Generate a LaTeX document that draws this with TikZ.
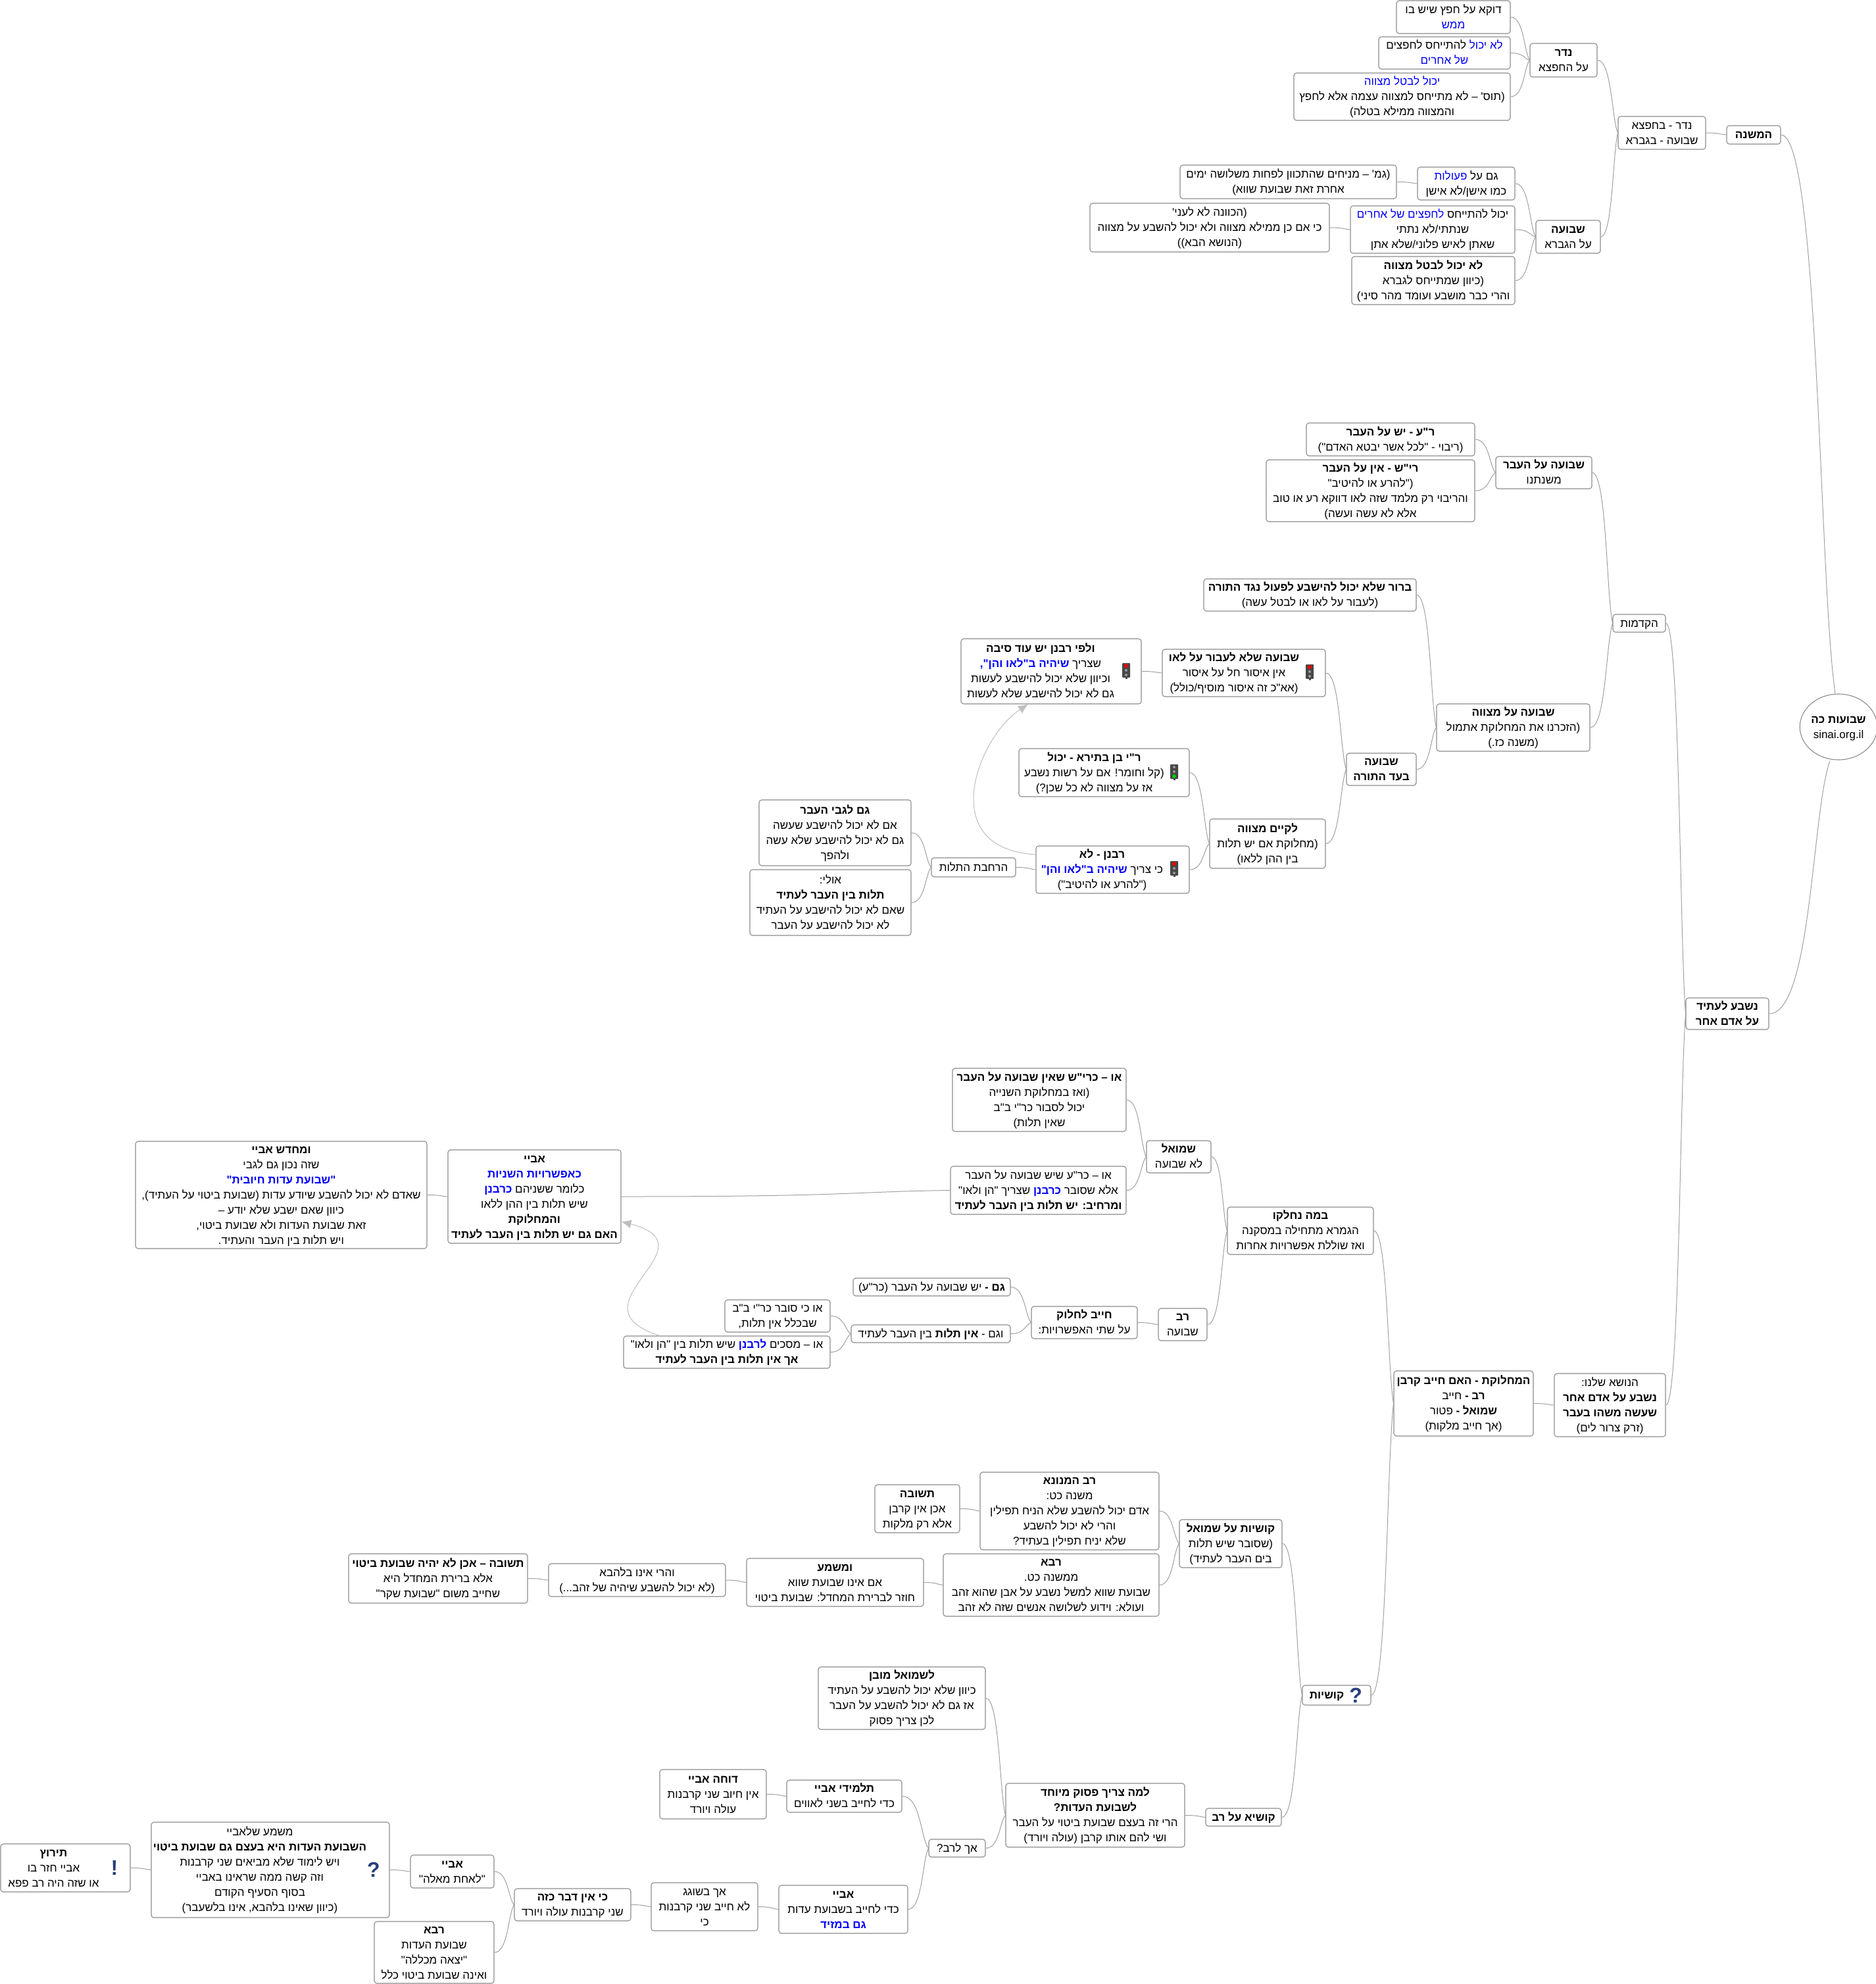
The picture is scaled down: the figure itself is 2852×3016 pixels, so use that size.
\documentclass[tikz,border=0pt]{standalone}
\usepackage{fontspec}
\usetikzlibrary{calc,shapes.geometric,arrows.meta}
\TeXXeTstate=1
\newfontfamily\hefont[Script=Hebrew]{Liberation Sans}
\newfontfamily\hefontblue[Script=Hebrew,Color=0000FF]{Liberation Sans}
\definecolor{edgeg}{HTML}{8C8C8C}
\definecolor{linkg}{HTML}{A0A0A0}
\definecolor{arrowg}{HTML}{BEBEBE}
\definecolor{icon}{HTML}{27407A}
\newcommand\HL[1]{\beginR #1\endR}
\newcommand\bd[1]{\textbf{#1}}
\newcommand\BL[1]{{\hefontblue #1}}
\newcommand\BB[1]{{\hefontblue\bfseries #1}}
\newcommand\lowered[1]{\raisebox{-0.5pt}[\dimexpr\height+0.5pt][\dimexpr\depth-0.5pt]{\begin{tabular}{@{}c@{}}#1\end{tabular}}}
\newcommand\shifted[2]{\hbox{\begin{tabular}{@{}c@{}}#2\end{tabular}\hspace*{#1pt}}}
\tikzset{
  x=1pt,y=-1pt,
  mapbox/.style={draw=edgeg,line width=1.1pt,rounded corners=4pt,fill=white,inner sep=0pt,align=center,text=black,
    font=\hefont\fontsize{17}{23}\selectfont},
  maplink/.style={draw=linkg,line width=1pt},
  jump/.style={draw=arrowg,line width=1pt,-{Latex[length=15pt,width=13pt]}},
  tlbody/.style={fill=black!72,rounded corners=1pt,minimum width=12pt,minimum height=22pt,inner sep=0pt},
  markicon/.style={text=icon,inner sep=0pt,font=\hefont\fontsize{32}{32}\selectfont\bfseries},
}
\newcommand\Bx[6]{\node[mapbox,minimum width={(#4-#2)*1pt},minimum height={(#5-#3)*1pt}] (#1) at ({(#2+#4)/2},{(#3+#5)/2}) {\lowered{#6}};}
\newcommand\lkx[2]{\draw[maplink] let \p1=(#1),\p2=(#2) in (\p1) .. controls ({\x1+0.7*(\x2-\x1)},\y1) and ({\x1+0.7*(\x2-\x1)},{\y1+0.8*(\y2-\y1)}) .. (\p2);}
\newcommand\lk[2]{\lkx{#1.east}{#2.west}}
\newcommand\Tlight[4]{%
  \node[tlbody] (#1) at (#2,#3) {};
  \fill[black!72] ({#2-1.5},{#3+10}) rectangle ({#2+1.5},{#3+13});
  \fill[#4] (#2,{#3-7}) circle (3pt);
  \fill[black!40] (#2,#3) circle (2pt);
  \fill[black!40] (#2,{#3+7}) circle (2pt);
}
\newcommand\TlightG[4]{%
  \node[tlbody] (#1) at (#2,#3) {};
  \fill[black!72] ({#2-1.5},{#3+10}) rectangle ({#2+1.5},{#3+13});
  \fill[black!40] (#2,{#3-7}) circle (2pt);
  \fill[black!40] (#2,#3) circle (2pt);
  \fill[#4] (#2,{#3+7}) circle (3pt);
}
\begin{document}
\begin{tikzpicture}
\useasboundingbox (0,0) rectangle (2852,3016);
\fill[white] (0,0) rectangle (2852,3016);
% ---- root and first branch
\node[mapbox,ellipse,rounded corners=0pt,minimum width=112pt,minimum height=100pt] (root) at (2795,1105) {\lowered{\HL{\bd{שבועות כה}}\\sinai.org.il}};
\Bx{mishna}{2625}{191}{2707}{219}{\HL{\bd{המשנה}}}
\Bx{nb}{2460}{177}{2593}{227}{\HL{נדר - בחפצא}\\\HL{שבועה - בגברא}}
\Bx{neder}{2326}{66}{2428}{117}{\HL{\bd{נדר}}\\\HL{על החפצא}}
\Bx{aone}{2123}{1}{2296}{51}{\HL{דוקא על חפץ שיש בו}\\\HL{\BL{ממש}}}
\Bx{atwo}{2096}{56}{2296}{105}{\HL{\BL{לא יכול} להתייחס לחפצים}\\\HL{\BL{של אחרים}}}
\Bx{athree}{1967}{111}{2296}{183}{\HL{\BL{יכול לבטל מצווה}}\\\HL{(תוס' – לא מתייחס למצווה עצמה אלא לחפץ}\\\HL{והמצווה ממילא בטלה)}}
\Bx{shv}{2335}{335}{2433}{385}{\HL{\bd{שבועה}}\\\HL{על הגברא}}
\Bx{peul}{2155}{254}{2303}{304}{\HL{גם על \BL{פעולות}}\\\HL{כמו אישן/לא אישן}}
\Bx{gem}{1794}{251}{2123}{302}{\HL{(גמ' – מניחים שהתכוון לפחות משלושה ימים}\\\HL{אחרת זאת שבועת שווא)}}
\Bx{yak}{2053}{313}{2303}{385}{\HL{יכול להתייחס \BL{לחפצים של אחרים}}\\\HL{שנתתי/לא נתתי}\\\HL{שאתן לאיש פלוני/שלא אתן}}
\Bx{kav}{1657}{309}{2021}{383}{\HL{(הכוונה לא לעני'}\\\HL{כי אם כן  ממילא מצווה ולא יכול להשבע על מצווה}\\\HL{(הנושא הבא))}}
\Bx{lobt}{2055}{390}{2303}{463}{\HL{\bd{לא יכול לבטל מצווה}}\\\HL{(כיוון שמתייחס לגברא}\\\HL{והרי כבר מושבע ועומד מהר סיני)}}
% ---- hakdamot
\Bx{kad}{2452}{934}{2532}{961}{\HL{הקדמות}}
\Bx{avar}{2274}{694}{2420}{743}{\HL{\bd{שבועה על העבר}}\\\HL{משנתנו}}
\Bx{ra}{1986}{643}{2242}{693}{\HL{\bd{ר"ע - יש על העבר}}\\\HL{(ריבוי - "לכל אשר יבטא האדם")}}
\Bx{rish}{1925}{699}{2242}{793}{\HL{\bd{רי"ש - אין על העבר}}\\\HL{("להרע או להיטיב"}\\\HL{והריבוי רק מלמד שזה לאו דווקא רע או טוב}\\\HL{אלא לא עשה ועשה)}}
\Bx{mitz}{2184}{1070}{2417}{1142}{\HL{\bd{שבועה על מצווה}}\\\HL{(הזכרנו את המחלוקת אתמול}\\\HL{(משנה כז.)}}
\Bx{barur}{1830}{880}{2153}{929}{\HL{\bd{ברור שלא יכול להישבע לפעול נגד התורה}}\\\HL{(לעבור על לאו או לבטל עשה)}}
\Bx{beadt}{2047}{1145}{2153}{1194}{\HL{\bd{שבועה}}\\\HL{\bd{בעד התורה}}}
\Bx{shlo}{1767}{987}{2015}{1059}{\shifted{30}{\HL{\bd{שבועה שלא לעבור על לאו}}\\\HL{אין איסור חל על איסור}\\\HL{(אא"כ זה איסור מוסיף/כולל)}}}
\Bx{vlif}{1461}{971}{1735}{1070}{\shifted{32}{\HL{\bd{ולפי רבנן יש עוד סיבה}}\\\HL{שצריך \BB{שיהיה ב"לאו והן",}}\\\HL{וכיוון שלא יכול להישבע לעשות}\\\HL{גם לא יכול להישבע שלא לעשות}}}
\Bx{bat}{1549}{1138}{1808}{1211}{\shifted{30}{\HL{\bd{ר"י בן בתירא - יכול}}\\\HL{(קל וחומר! אם על רשות נשבע}\\\HL{אז על מצווה לא כל שכן?)}}}
\Bx{lek}{1839}{1245}{2015}{1320}{\HL{\bd{לקיים מצווה}}\\\HL{(מחלוקת אם יש תלות}\\\HL{בין ההן ללאו)}}
\Bx{rab}{1575}{1286}{1808}{1358}{\shifted{32}{\HL{\bd{רבנן - לא}}\\\HL{כי צריך \BB{שיהיה ב"לאו והן"}}\\\HL{("להרע או להיטיב")}}}
\Bx{harh}{1416}{1304}{1544}{1333}{\HL{הרחבת התלות}}
\Bx{gamav}{1154}{1216}{1385}{1316}{\HL{\bd{גם לגבי העבר}}\\\HL{אם לא יכול להישבע שעשה}\\\HL{גם לא יכול להישבע שלא עשה}\\\HL{ולהפך}}
\Bx{uli}{1140}{1322}{1385}{1422}{\HL{אולי:}\\\HL{\bd{תלות בין העבר לעתיד}}\\\HL{שאם לא יכול להישבע על העתיד}\\\HL{לא יכול להישבע על העבר}}
% ---- lower right
\Bx{nish}{2563}{1517}{2689}{1565}{\HL{\bd{נשבע לעתיד}}\\\HL{\bd{על אדם אחר}}}
\Bx{nos}{2363}{2088}{2532}{2184}{\HL{הנושא שלנו:}\\\HL{\bd{נשבע על אדם אחר}}\\\HL{\bd{שעשה משהו בעבר}}\\\HL{(זרק צרור לים)}}
\Bx{mach}{2119}{2084}{2331}{2183}{\HL{\bd{המחלוקת - האם חייב קרבן}}\\\HL{\bd{רב -} חייב}\\\HL{\bd{שמואל -} פטור}\\\HL{(אך חייב מלקות)}}
\Bx{bm}{1866}{1835}{2088}{1907}{\HL{\bd{במה נחלקו}}\\\HL{הגמרא מתחילה במסקנה}\\\HL{ואז שוללת אפשרויות אחרות}}
\Bx{shm}{1743}{1734}{1841}{1783}{\HL{\bd{שמואל}}\\\HL{לא שבועה}}
\Bx{kri}{1448}{1624}{1712}{1720}{\HL{\bd{או – כרי"ש שאין שבועה על העבר}}\\\HL{(ואז במחלוקת השנייה}\\\HL{יכול לסבור כר"י ב"ב}\\\HL{שאין תלות)}}
\Bx{kra}{1445}{1773}{1712}{1846}{\HL{או – כר"ע שיש שבועה על העבר}\\\HL{אלא שסובר \BB{כרבנן}  שצריך "הן ולאו"}\\\HL{\bd{ומרחיב: יש תלות בין העבר לעתיד}}}
\Bx{abay}{681}{1748}{944}{1890}{\HL{\bd{אביי}}\\\HL{\BB{כאפשרויות השניות}}\\\HL{כלומר ששניהם \BB{כרבנן}}\\\HL{שיש תלות בין ההן ללאו}\\\HL{\bd{והמחלוקת}}\\\HL{\bd{האם גם יש תלות בין העבר לעתיד}}}
\Bx{mech}{206}{1735}{649}{1898}{\HL{\bd{ומחדש אביי}}\\\HL{שזה נכון גם לגבי}\\\HL{\BB{"שבועת עדות חיובית"}}\\\HL{שאדם לא יכול להשבע שיודע עדות (שבועת ביטוי על העתיד),}\\\HL{כיוון שאם ישבע שלא יודע –}\\\HL{זאת שבועת העדות ולא שבועת ביטוי,}\\\HL{ויש תלות בין העבר והעתיד.}}
\Bx{rav}{1761}{1989}{1835}{2038}{\HL{\bd{רב}}\\\HL{שבועה}}
\Bx{hl}{1568}{1986}{1729}{2035}{\HL{\bd{חייב לחלוק}}\\\HL{על שתי האפשרויות:}}
\Bx{gamy}{1297}{1943}{1536}{1970}{\HL{\bd{גם -} יש שבועה על העבר (כר"ע)}}
\Bx{vgam}{1294}{2014}{1536}{2041}{\HL{וגם - \bd{אין תלות} בין העבר לעתיד}}
\Bx{osv}{1102}{1976}{1262}{2025}{\HL{או כי סובר כר"י ב"ב}\\\HL{שבכלל אין תלות,}}
\Bx{oms}{948}{2031}{1262}{2080}{\HL{או – מסכים \BB{לרבנן}  שיש תלות בין "הן ולאו"}\\\HL{\bd{אך אין תלות בין העבר לעתיד}}}
% ---- kushiot
\Bx{kush}{1980}{2562}{2084}{2592}{\shifted{30}{\HL{\bd{קושיות}}}}
\Bx{kshm}{1793}{2310}{1949}{2383}{\HL{\bd{קושיות על שמואל}}\\\HL{(שסובר שיש תלות}\\\HL{בים העבר לעתיד)}}
\Bx{ham}{1490}{2238}{1762}{2356}{\HL{\bd{רב המנונא}}\\\HL{משנה כט:}\\\HL{אדם יכול להשבע שלא הניח תפילין}\\\HL{והרי לא יכול להשבע}\\\HL{שלא יניח תפילין בעתיד?}}
\Bx{tsh}{1330}{2257}{1459}{2330}{\HL{\bd{תשובה}}\\\HL{אכן אין קרבן}\\\HL{אלא רק מלקות}}
\Bx{rava}{1434}{2362}{1762}{2457}{\HL{\bd{רבא}}\\\HL{ממשנה כט.}\\\HL{שבועת שווא למשל נשבע על אבן שהוא זהב}\\\HL{ועולא:  וידוע לשלושה אנשים שזה לא זהב}}
\Bx{mash}{1135}{2369}{1404}{2442}{\HL{\bd{ומשמע}}\\\HL{אם אינו שבועת שווא}\\\HL{חוזר לברירת המחדל: שבועת ביטוי}}
\Bx{vhar}{834}{2377}{1103}{2427}{\HL{והרי אינו בלהבא}\\\HL{(לא יכול להשבע שיהיה של זהב...)}}
\Bx{tak}{530}{2362}{802}{2437}{\HL{\bd{תשובה – אכן לא יהיה שבועת ביטוי}}\\\HL{אלא ברירת המחדל היא}\\\HL{שחייב משום "שבועת שקר"}}
\Bx{krav}{1833}{2749}{1948}{2776}{\HL{\bd{קושיא על רב}}}
\Bx{lama}{1529}{2711}{1801}{2808}{\HL{\bd{למה צריך פסוק מיוחד}}\\\HL{\bd{לשבועת העדות?}}\\\HL{הרי זה בעצם שבועת ביטוי על העבר}\\\HL{ושי להם אותו קרבן (עולה ויורד)}}
\Bx{lish}{1244}{2534}{1498}{2629}{\HL{\bd{לשמואל מובן}}\\\HL{כיוון שלא יכול להשבע על העתיד}\\\HL{אז גם לא יכול להשבע על העבר}\\\HL{לכן צריך פסוק}}
\Bx{akh}{1412}{2796}{1498}{2823}{\HL{אך לרב?}}
\Bx{talm}{1196}{2706}{1371}{2755}{\HL{\bd{תלמידי אביי}}\\\HL{כדי לחייב בשני לאווים}}
\Bx{doh}{1003}{2690}{1165}{2765}{\HL{\bd{דוחה אביי}}\\\HL{אין חיוב שני קרבנות}\\\HL{עולה ויורד}}
\Bx{abtwo}{1184}{2866}{1380}{2939}{\HL{\bd{אביי}}\\\HL{כדי לחייב בשבועת עדות}\\\HL{\BB{גם במזיד}}}
\Bx{shog}{990}{2862}{1152}{2935}{\HL{אך בשוגג}\\\HL{לא חייב שני קרבנות}\\\HL{כי}}
\Bx{kien}{782}{2871}{959}{2920}{\HL{\bd{כי אין דבר כזה}}\\\HL{שני קרבנות עולה ויורד}}
\Bx{ablah}{624}{2820}{751}{2870}{\HL{\bd{אביי}}\\\HL{"לאחת מאלה"}}
\Bx{ravb}{569}{2921}{751}{3015}{\HL{\bd{רבא}}\\\HL{שבועת העדות}\\\HL{"יצאה מכללה"}\\\HL{ואינה שבועת ביטוי כלל}}
\Bx{mshm}{230}{2770}{592}{2915}{\shifted{32}{\HL{משמע שלאביי}\\\HL{\bd{השבועת העדות היא בעצם גם שבועת ביטוי}}\\\HL{ויש לימוד שלא מביאים שני קרבנות}\\\HL{וזה קשה ממה שראינו באביי}\\\HL{בסוף הסעיף הקודם}\\\HL{(כיוון שאינו בלהבא, אינו בלשעבר)}}}
\Bx{tir}{1}{2803}{198}{2876}{\shifted{36}{\HL{\bd{תירוץ}}\\\HL{אביי חזר בו}\\\HL{או שזה היה רב פפא}}}
% ---- icons
\Tlight{tlshlo}{1991}{1021}{red}
\Tlight{tlvlif}{1712}{1019}{red}
\TlightG{tlbat}{1785}{1173}{green!80!black}
\Tlight{tlrab}{1785}{1320}{red}
\node[markicon] (qkush) at (2061,2577) {?};
\node[markicon] (qmshm) at (568,2842) {?};
\node[markicon] (extir) at (174,2839) {!};
% ---- connectors
\lkx{mishna.east}{[xshift=-5pt]root.north}
\lkx{nish.east}{[xshift=-13pt,yshift=-1pt]root.south}
\lk{nb}{mishna}
\lk{neder}{nb}\lk{shv}{nb}
\lk{aone}{neder}\lk{atwo}{neder}\lk{athree}{neder}
\lk{peul}{shv}\lk{yak}{shv}\lk{lobt}{shv}
\lk{gem}{peul}\lk{kav}{yak}
\lk{kad}{nish}
\lk{avar}{kad}\lk{mitz}{kad}
\lk{ra}{avar}\lk{rish}{avar}
\lk{barur}{mitz}\lk{beadt}{mitz}
\lk{shlo}{beadt}\lk{lek}{beadt}
\lk{vlif}{shlo}
\lk{bat}{lek}\lk{rab}{lek}
\lk{harh}{rab}
\lk{gamav}{harh}\lk{uli}{harh}
\lk{nos}{nish}
\lk{mach}{nos}
\lk{bm}{mach}\lk{kush}{mach}
\lk{shm}{bm}\lk{rav}{bm}
\lk{kri}{shm}\lk{kra}{shm}
\lk{abay}{kra}
\lk{mech}{abay}
\lk{hl}{rav}
\lk{gamy}{hl}\lk{vgam}{hl}
\lk{osv}{vgam}\lk{oms}{vgam}
\lk{kshm}{kush}\lk{krav}{kush}
\lk{ham}{kshm}\lk{rava}{kshm}
\lk{tsh}{ham}
\lk{mash}{rava}\lk{vhar}{mash}\lk{tak}{vhar}
\lk{lama}{krav}
\lk{lish}{lama}\lk{akh}{lama}
\lk{talm}{akh}\lk{abtwo}{akh}
\lk{doh}{talm}
\lk{shog}{abtwo}\lk{kien}{shog}
\lk{ablah}{kien}\lk{ravb}{kien}
\lk{mshm}{ablah}\lk{tir}{mshm}
% ---- jump arrows
\draw[jump] ([yshift=23pt]rab.west) .. controls (1420,1290) and (1487,1120) .. ([xshift=-35pt]vlif.south);
\draw[jump] ([xshift=-102pt]oms.north) .. controls (860,1985) and (1090,1895) .. ([yshift=-38pt]abay.east);
\end{tikzpicture}
\end{document}
